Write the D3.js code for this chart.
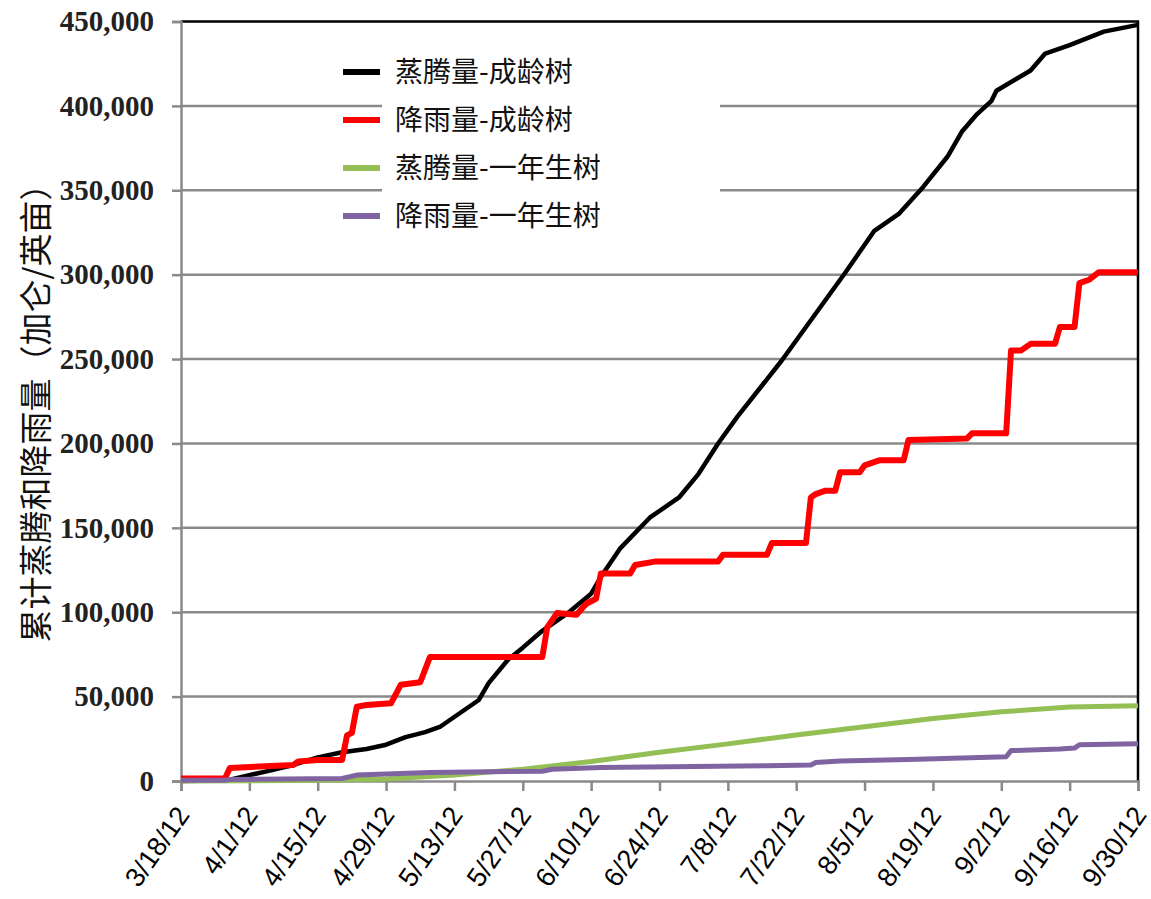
<!DOCTYPE html>
<html>
<head>
<meta charset="utf-8">
<script src="https://cdn.jsdelivr.net/npm/d3@7"></script>
<style>
  body { margin: 0; background: #fff; }
</style>
</head>
<body>
<div id="chart"></div>
<script>
// x axis tick labels (every two weeks)
const tickLabels = ["3/18/12", "4/1/12", "4/15/12", "4/29/12", "5/13/12", "5/27/12", "6/10/12",
  "6/24/12", "7/8/12", "7/22/12", "8/5/12", "8/19/12", "9/2/12", "9/16/12", "9/30/12"];
const yTicks = [0, 50000, 100000, 150000, 200000, 250000, 300000, 350000, 400000, 450000];

const seriesNames = ["蒸腾量-成龄树", "降雨量-成龄树", "蒸腾量-一年生树", "降雨量-一年生树"];

// cumulative transpiration, mature trees
const etMatureDates = ["3/18/12", "3/25/12", "3/28/12", "4/1/12", "4/5/12", "4/10/12", "4/15/12", "4/20/12",
  "4/25/12", "4/29/12", "5/3/12", "5/7/12", "5/10/12", "5/14/12", "5/18/12", "5/20/12", "5/24/12",
  "5/27/12", "5/31/12", "6/5/12", "6/10/12", "6/12/12", "6/16/12", "6/22/12", "6/28/12", "7/2/12",
  "7/6/12", "7/10/12", "7/16/12", "7/19/12", "7/21/12", "7/26/12", "8/1/12", "8/7/12", "8/12/12",
  "8/17/12", "8/22/12", "8/25/12", "8/28/12", "8/31/12", "9/1/12", "9/8/12", "9/11/12", "9/16/12",
  "9/23/12", "9/30/12"];
const etMatureValues = [0, 300, 800, 3500, 6000, 9500, 14000, 17000,
  19000, 21500, 26000, 29000, 32000, 40000, 48000, 58000, 72000,
  79000, 89000, 99000, 111000, 121000, 138000, 156000, 168000, 182000,
  200000, 216000, 238000, 249000, 257000, 277000, 301000, 326000, 336000,
  352000, 370000, 385000, 395000, 403000, 409000, 421000, 431000, 436000,
  444000, 448000];

// cumulative rainfall, mature trees
const rainMatureDates = ["3/18/12", "3/27/12", "3/28/12", "4/10/12", "4/11/12", "4/15/12", "4/20/12", "4/21/12",
  "4/22/12", "4/23/12", "4/25/12", "4/30/12", "5/2/12", "5/6/12", "5/8/12", "5/31/12", "6/1/12",
  "6/3/12", "6/7/12", "6/9/12", "6/11/12", "6/12/12", "6/18/12", "6/19/12", "6/23/12", "7/6/12",
  "7/7/12", "7/16/12", "7/17/12", "7/24/12", "7/25/12", "7/26/12", "7/28/12", "7/30/12", "7/31/12",
  "8/4/12", "8/5/12", "8/8/12", "8/13/12", "8/14/12", "8/26/12", "8/27/12", "9/3/12", "9/4/12",
  "9/6/12", "9/8/12", "9/13/12", "9/14/12", "9/17/12", "9/18/12", "9/20/12", "9/22/12", "9/30/12"];
const rainMatureValues = [1500, 1500, 7700, 9500, 11500, 12500, 12500, 27000,
  28500, 44000, 45000, 46000, 57000, 58500, 73500, 73500, 91000,
  99500, 98500, 105000, 108000, 123000, 123000, 128000, 130000, 130000,
  134000, 134000, 141000, 141000, 168000, 170000, 172000, 172000, 183000,
  183000, 187000, 190000, 190000, 202000, 203000, 206000, 206000, 255000,
  255000, 259000, 259000, 269000, 269000, 295000, 297000, 301500, 301500];

// cumulative transpiration, one-year trees
const etYoungDates = ["3/18/12", "4/1/12", "4/15/12", "4/29/12", "5/13/12", "5/27/12", "6/10/12", "6/24/12",
  "7/8/12", "7/22/12", "8/5/12", "8/19/12", "9/2/12", "9/16/12", "9/30/12"];
const etYoungValues = [0, 100, 400, 1200, 3500, 7000, 11500, 17000,
  22000, 27300, 32200, 37000, 41000, 43800, 44600];

// cumulative rainfall, one-year trees
const rainYoungDates = ["3/18/12", "3/27/12", "3/28/12", "4/20/12", "4/23/12", "5/8/12", "5/31/12", "6/2/12",
  "6/12/12", "7/16/12", "7/25/12", "7/26/12", "7/31/12", "8/14/12", "9/3/12", "9/4/12", "9/14/12",
  "9/17/12", "9/18/12", "9/30/12"];
const rainYoungValues = [500, 500, 900, 1500, 3500, 5000, 5800, 7000,
  8000, 9000, 9500, 11000, 11800, 12800, 14400, 18000, 19000,
  19500, 21500, 22000];

const parse = d3.timeParse("%m/%d/%y");
const colors = ["#000000", "#ff0000", "#93bf55", "#8064a2"];
const widths = [4.5, 6, 5, 5];

const series = [
  [etMatureDates, etMatureValues],
  [rainMatureDates, rainMatureValues],
  [etYoungDates, etYoungValues],
  [rainYoungDates, rainYoungValues]
].map(([ds, vs]) => ds.map((d, i) => ({ date: parse(d), value: vs[i] })));

const W = 1151, H = 899;
const plotLeft = 181, plotRight = 1138, plotTop = 21.5, plotBottom = 781;

const svg = d3.select("#chart").append("svg")
  .attr("width", W)
  .attr("height", H);

const x = d3.scaleTime()
  .domain([parse(tickLabels[0]), parse(tickLabels[tickLabels.length - 1])])
  .range([plotLeft, plotRight]);

const y = d3.scaleLinear()
  .domain([0, 450000])
  .range([plotBottom, plotTop]);

// gridlines
svg.append("g")
  .selectAll("line")
  .data(yTicks.filter(d => d > 0 && d < 450000))
  .join("line")
  .attr("x1", plotLeft)
  .attr("x2", plotRight)
  .attr("y1", d => y(d))
  .attr("y2", d => y(d))
  .style("stroke", "#8a8a8a")
  .style("stroke-width", 2.5);

// white box behind legend text
svg.append("rect")
  .attr("x", 382)
  .attr("y", 42)
  .attr("width", 338)
  .attr("height", 196)
  .style("fill", "#fff");

// top and right border
svg.append("path")
  .attr("d", `M${plotLeft},${plotTop}H${plotRight}V${plotBottom}`)
  .style("fill", "none")
  .style("stroke", "#000")
  .style("stroke-width", 2.5);

// y axis
const yAxis = svg.append("g")
  .attr("transform", `translate(${plotLeft},0)`)
  .call(d3.axisLeft(y).tickValues(yTicks).tickSize(9).tickPadding(18).tickFormat(d3.format(",")));
yAxis.select(".domain").style("stroke", "#8a8a8a").style("stroke-width", 2.5);
yAxis.selectAll("line").style("stroke", "#8a8a8a").style("stroke-width", 2.5);
yAxis.selectAll("text")
  .style("font-family", "'Liberation Serif', serif")
  .style("font-weight", "bold")
  .style("font-size", "29px")
  .style("fill", "#222");

// x axis
const xAxis = svg.append("g")
  .attr("transform", `translate(0,${plotBottom})`)
  .call(d3.axisBottom(x).tickValues(tickLabels.map(parse)).tickSize(10).tickFormat((d, i) => tickLabels[i]));
xAxis.select(".domain").style("stroke", "#8a8a8a").style("stroke-width", 2.5);
xAxis.selectAll("line").style("stroke", "#8a8a8a").style("stroke-width", 2.5);
xAxis.selectAll("text")
  .attr("y", 0)
  .attr("dy", 0)
  .attr("transform", "translate(9,34) rotate(-55)")
  .style("text-anchor", "end")
  .style("font-family", "'Liberation Sans Narrow', 'Liberation Sans', sans-serif")
  .style("font-size", "27px")
  .style("fill", "#000");

// series lines
const line = d3.line()
  .x(d => x(d.date))
  .y(d => y(d.value));

svg.append("g")
  .selectAll("path")
  .data(series)
  .join("path")
  .attr("d", line)
  .style("fill", "none")
  .style("stroke", (d, i) => colors[i])
  .style("stroke-width", (d, i) => widths[i])
  .style("stroke-linejoin", "round");

// y axis title
svg.append("text")
  .attr("transform", "translate(48,405) rotate(-90)")
  .style("text-anchor", "middle")
  .style("font-family", "'Noto Sans CJK SC', sans-serif")
  .style("font-size", "33px")
  .style("fill", "#111")
  .text("累计蒸腾和降雨量（加仑/英亩）");

// legend
const legend = svg.append("g")
  .selectAll("g")
  .data(seriesNames)
  .join("g")
  .attr("transform", (d, i) => `translate(343,${72 + i * 48})`);
legend.append("line")
  .attr("x1", 0)
  .attr("x2", 37)
  .style("stroke", (d, i) => colors[i])
  .style("stroke-width", 6);
legend.append("text")
  .attr("x", 52)
  .attr("dy", "0.36em")
  .style("font-family", "'Noto Sans CJK SC', sans-serif")
  .style("font-size", "28px")
  .style("fill", "#111")
  .text(d => d);
</script>
</body>
</html>
